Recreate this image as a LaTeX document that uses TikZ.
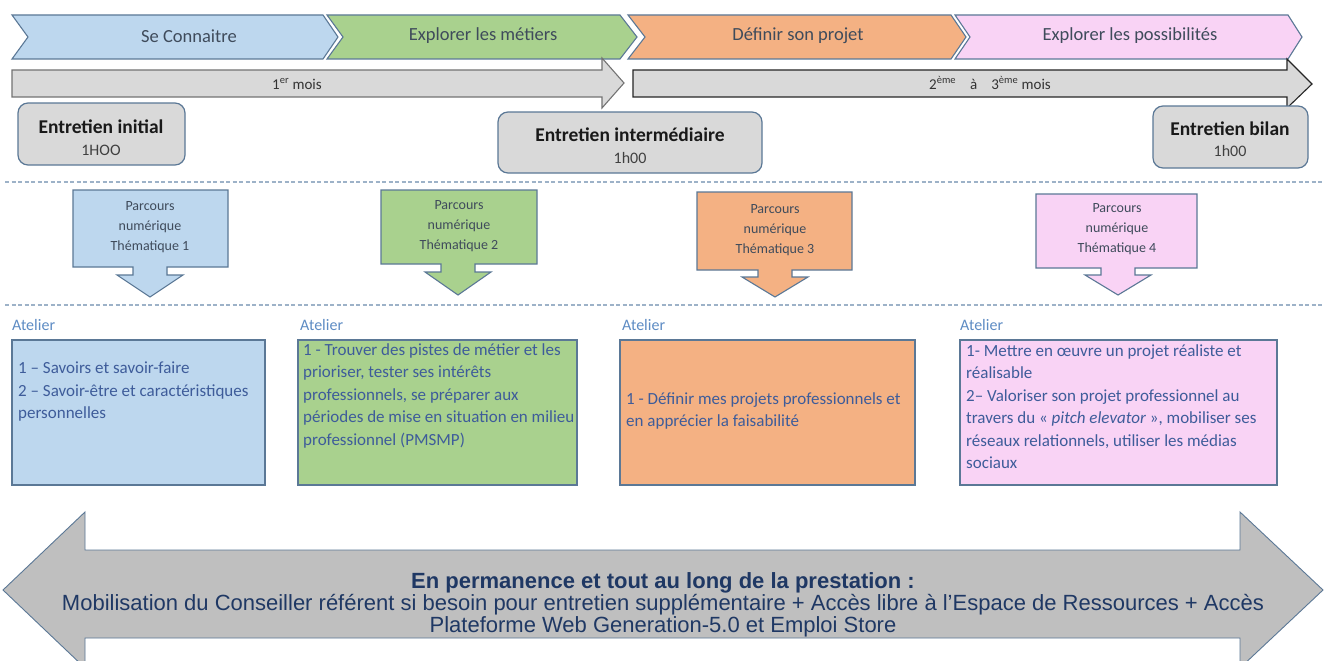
\documentclass[tikz,border=0pt]{standalone}
\usepackage{fontspec}
\setmainfont{Carlito}
\newfontfamily\arialf{Liberation Sans}
\definecolor{cblue}{HTML}{BDD7EE}
\definecolor{cgreen}{HTML}{A9D18E}
\definecolor{corange}{HTML}{F4B183}
\definecolor{cpink}{HTML}{F9D3F5}
\definecolor{cgray}{HTML}{D9D9D9}
\definecolor{bgray}{HTML}{BFBFBF}
\definecolor{edge}{HTML}{5B7896}
\definecolor{chevtext}{HTML}{3F4B5B}
\definecolor{boxtext}{HTML}{3E5C9A}
\definecolor{atlabel}{HTML}{5E8CC4}
\definecolor{dashc}{HTML}{9DB2C8}
\definecolor{darkblue}{HTML}{1F3864}
\begin{document}
\begin{tikzpicture}[x=1pt,y=-1pt,
  shapeline/.style={draw=edge, line width=1.1pt, line join=miter},
  chevlbl/.style={font=\fontsize{18.5}{21}\selectfont, text=chevtext, inner sep=0pt},
  monthlbl/.style={font=\fontsize{15}{17}\selectfont, text=black!80, inner sep=0pt},
  entbox/.style={draw=edge, line width=1.2pt, fill=cgray, rounded corners=10pt},
  enttitle/.style={font=\bfseries\fontsize{19.5}{22}\selectfont, text=black!90, inner sep=0pt},
  enttime/.style={font=\fontsize{16}{18}\selectfont, text=black!75, inner sep=0pt},
  sepline/.style={draw=dashc, line width=1.1pt, dash pattern=on 4pt off 2.5pt},
  calltext/.style={font=\fontsize{14}{20}\selectfont, text=chevtext, align=center, inner sep=0pt},
  atelierlbl/.style={font=\fontsize{16}{18}\selectfont, text=atlabel, inner sep=0pt, anchor=base west},
  atbox/.style={draw=edge, line width=1.1pt},
  attext/.style={font=\fontsize{17}{22.5}\selectfont, text=boxtext, align=left, inner sep=0pt, anchor=north west},
  bottomtext/.style={font=\arialf\fontsize{22}{22}\selectfont, text=darkblue, align=center, inner sep=0pt}
]
\useasboundingbox (0,0) rectangle (1326,661);
\fill[white] (0,0) rectangle (1326,661);

% ---- chevrons
\path[shapeline, fill=cblue]   (12,15) -- (323,15) -- (338,37) -- (323,59) -- (12,59) -- (28,37) -- cycle;
\path[shapeline, fill=cgreen]  (327,15) -- (620,15) -- (637,37) -- (620,59) -- (327,59) -- (343,37) -- cycle;
\path[shapeline, fill=corange] (628,15) -- (951,15) -- (966,37) -- (951,59) -- (628,59) -- (645,37) -- cycle;
\path[shapeline, fill=cpink]   (955,15) -- (1288,15) -- (1302,37) -- (1288,59) -- (955,59) -- (970,37) -- cycle;
\node[chevlbl] (c1) at (189,36) {Se Connaitre};
\node[chevlbl] (c2) at (483,36) {Explorer les métiers};
\node[chevlbl] (c3) at (798,36) {Définir son projet};
\node[chevlbl] (c4) at (1130,36) {Explorer les possibilités};

% ---- month arrows
\path[draw=black!55, line width=1.1pt, fill=cgray] (12,70) -- (602,70) -- (602,58) -- (624,83) -- (602,108) -- (602,97) -- (12,97) -- cycle;
\path[draw=black!85, line width=1.1pt, fill=cgray] (633,70) -- (1287,70) -- (1287,59) -- (1312,84) -- (1287,108) -- (1287,97) -- (633,97) -- cycle;
\node[monthlbl] (m1) at (297,84) {1\textsuperscript{er} mois};
\node[monthlbl] (m2) at (990,83) {2\textsuperscript{ème}\hspace{14pt}à\hspace{14pt}3\textsuperscript{ème} mois};

% ---- entretiens
\path[entbox] (18,103) rectangle (185,165);
\node[enttitle] (e1) at (101,127) {Entretien initial};
\node[enttime] (e1t) at (101,150) {1HOO};
\path[entbox] (498,112) rectangle (762,173);
\node[enttitle] (e2) at (630,135) {Entretien intermédiaire};
\node[enttime] (e2t) at (630,158) {1h00};
\path[entbox] (1153,106) rectangle (1308,168);
\node[enttitle] (e3) at (1230,129) {Entretien bilan};
\node[enttime] (e3t) at (1230,151) {1h00};

% ---- separators
\path[sepline] (5,182) -- (1322,182);
\path[sepline] (5,305) -- (1322,305);

% ---- callouts
\path[shapeline, fill=cblue] (73,190) -- (228,190) -- (228,267) -- (167,267) -- (167,275) -- (183,275) -- (150,297) -- (117,275) -- (133,275) -- (133,267) -- (73,267) -- cycle;
\node[calltext] (p1) at (150,227) {Parcours\\numérique\\Thématique 1};
\path[shapeline, fill=cgreen] (381,190) -- (537,190) -- (537,264) -- (475,264) -- (475,272) -- (491,272) -- (458,295) -- (425,272) -- (441,272) -- (441,264) -- (381,264) -- cycle;
\node[calltext] (p2) at (459,226) {Parcours\\numérique\\Thématique 2};
\path[shapeline, fill=corange] (697,192) -- (852,192) -- (852,270) -- (792,270) -- (792,277) -- (808,277) -- (775,297) -- (742,277) -- (758,277) -- (758,270) -- (697,270) -- cycle;
\node[calltext] (p3) at (775,230) {Parcours\\numérique\\Thématique 3};
\path[shapeline, fill=cpink] (1036,194) -- (1197,194) -- (1197,268) -- (1135,268) -- (1135,275) -- (1151,275) -- (1118,295) -- (1085,275) -- (1101,275) -- (1101,268) -- (1036,268) -- cycle;
\node[calltext] (p4) at (1117,229) {Parcours\\numérique\\Thématique 4};

% ---- ateliers
\node[atelierlbl] (a1) at (12,330) {Atelier};
\node[atelierlbl] (a2) at (300,330) {Atelier};
\node[atelierlbl] (a3) at (622,330) {Atelier};
\node[atelierlbl] (a4) at (960,330) {Atelier};

\path[atbox, fill=cblue]   (12,340) rectangle (265,485);
\path[atbox, fill=cgreen]  (298,340) rectangle (577,485);
\path[atbox, fill=corange] (620,340) rectangle (915,485);
\path[atbox, fill=cpink]   (960,340) rectangle (1277,485);

\node[attext] (t1) at (18,362) {1 – Savoirs et savoir-faire\\2 – Savoir-être et caractéristiques\\personnelles};
\node[attext] (t2) at (303,343) {1 - Trouver des pistes de métier et les\\prioriser, tester ses intérêts\\professionnels, se préparer aux\\périodes de mise en situation en milieu\\professionnel (PMSMP)};
\node[attext] (t3) at (626,392) {1 - Définir mes projets professionnels et\\en apprécier la faisabilité};
\node[attext] (t4) at (966,344) {1- Mettre en œuvre un projet réaliste et\\réalisable\\2– Valoriser son projet professionnel au\\travers du « \textit{pitch elevator} », mobiliser ses\\réseaux relationnels, utiliser les médias\\sociaux};

% ---- bottom double arrow
\path[draw=edge, line width=0.9pt, fill=bgray] (3,590) -- (85,512) -- (85,550) -- (1240,550) -- (1240,512) -- (1323,590) -- (1240,668) -- (1240,638) -- (85,638) -- (85,668) -- cycle;
\node[bottomtext] (b1) at (663,605) {\textbf{En permanence et tout au long de la prestation :}\\Mobilisation du Conseiller référent si besoin pour entretien supplémentaire + Accès libre à l’Espace de Ressources + Accès\\Plateforme Web Generation-5.0 et Emploi Store};
\end{tikzpicture}
\end{document}
